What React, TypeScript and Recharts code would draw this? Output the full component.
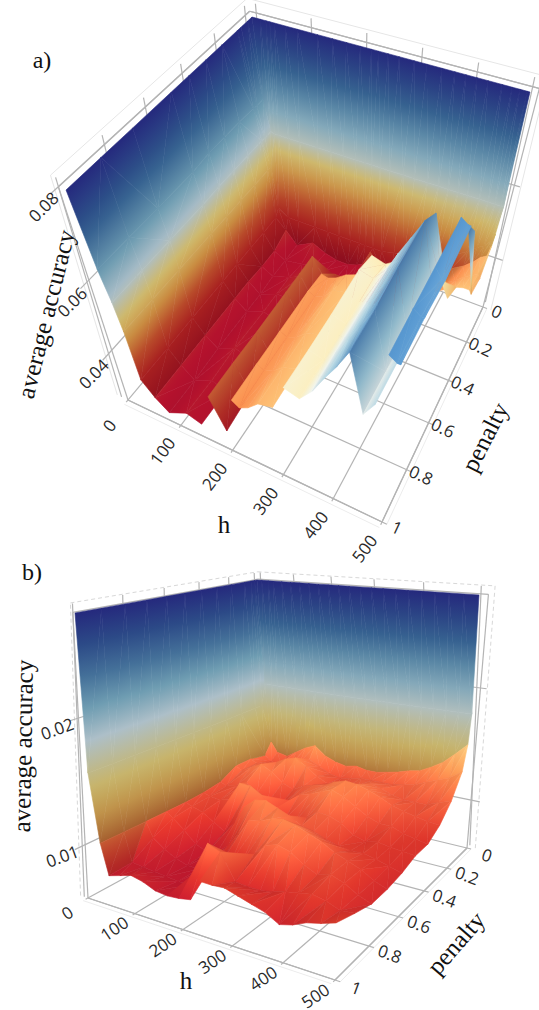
import { Scatter, ScatterChart, XAxis, YAxis } from 'recharts'

const WIDTH = 539
const HEIGHT = 1010

// accuracy values are stored x1000 (80 = 0.08)
const hA = [0, 15, 25, 32, 40, 60, 82, 118, 145, 170, 195, 215, 228, 245, 265, 292, 315, 342, 365, 385, 405, 425, 450, 468, 482, 495, 500]
const pA = [0, 0.03, 0.075, 0.1, 0.2, 0.3, 0.4, 0.5, 0.7, 0.85, 1]
const a00 = [80, 80, 80, 80, 80, 80, 80, 80, 80, 80, 80, 80, 80, 80, 80, 80, 80, 80, 80, 80, 80, 80, 80, 80, 80, 80, 80]
const a03 = [80, 64.6, 57.3, 57, 57, 57, 57, 57, 57, 57, 57, 57, 57, 57, 57, 57, 57, 57, 57, 57, 57, 57, 57, 57, 57, 57, 57]
const a06 = [80, 64.6, 57.3, 50, 38, 36, 36, 36, 36, 36, 36, 36, 36, 36, 36, 37, 37, 38, 39, 40, 41, 43, 45, 47, 48, 50, 52]
const a10 = [80, 64.8, 57.5, 50, 36, 33, 29, 32, 30, 29, 29, 30, 31, 36, 33, 30, 31, 33, 34, 35, 38, 40, 42, 44, 46, 47, 50]
const a20 = [80, 65, 57.5, 50, 36, 31, 29, 30, 31, 31, 30, 31, 31, 32, 31, 31, 32, 33, 35, 37, 39, 41, 43, 45, 46, 47, 46]
const a30 = [80, 65, 57.5, 50, 36, 31, 29, 31, 33, 41, 35, 38, 34, 33, 32, 33, 34, 35, 37, 39, 41, 44, 46, 47.5, 48, 48, 47]
const a40 = [80, 65, 57.5, 50, 36, 31.5, 28.5, 31, 31, 41, 34, 43.5, 43, 44, 46, 47.5, 54, 53, 55, 59, 64, 69, 54, 50, 62, 68, 60]
const a50 = [80, 64.5, 57.3, 50, 36, 31.5, 28.5, 31, 30, 41, 33.5, 44, 43, 44, 47, 48, 55.5, 54.5, 58, 63, 67.5, 72, 58, 63, 75, 74, 74]
const a70 = [80, 64.5, 57.3, 50, 36, 31.5, 28.5, 31.5, 30, 41, 33.5, 44, 43, 44, 46.5, 48, 55, 54, 58, 62.5, 67, 72, 58, 62.5, 75, 73, 73]
const a85 = [80, 64.6, 57.3, 50, 35.8, 31.5, 28, 31, 29.5, 41.3, 33, 44, 43, 44, 46.5, 48, 55, 54, 58, 62.5, 67, 71.5, 58, 62, 75, 74, 74]
const a100 = [80, 64.6, 57.3, 50, 35.8, 31.5, 28.1, 31.2, 29.7, 41.3, 31.8, 43.9, 42.5, 43.9, 46.7, 47.8, 55.3, 54.2, 58, 62.7, 67, 71.9, 58, 62, 75, 74, 74]

const hB = [0, 15, 35, 50, 75, 100, 125, 150, 175, 200, 225, 250, 275, 300, 325, 350, 375, 400, 425, 450, 475, 500]
const pB = [0, 0.02, 0.05, 0.1, 0.2, 0.3, 0.4, 0.5, 0.6, 0.7, 0.8, 0.9, 1]
const b00 = [28, 28, 28, 28, 28, 28, 28, 28, 28, 28, 28, 28, 28, 28, 28, 28, 28, 28, 28, 28, 28, 28]
const b02 = [28, 18, 18, 18, 18, 18, 18, 18, 18, 18, 18, 18, 18, 18, 18, 18, 18, 18, 18, 18, 18, 18]
const b05 = [28, 16, 12.5, 11.6, 11.4, 12, 12.6, 13, 12.2, 11.8, 11.6, 11.8, 11.6, 11.6, 11.8, 12, 12.3, 12.5, 13, 13.6, 14.5, 15.5]
const b10 = [28, 16, 11.5, 11, 11, 11, 11.5, 12, 11.5, 11, 10.8, 11, 11.2, 11.2, 11.2, 11.2, 11.4, 11.6, 12, 12.4, 12.8, 13.5]
const b20 = [28, 16, 11.8, 11.5, 11.5, 12, 12.5, 12.8, 12.2, 11.5, 11, 11, 11.2, 11.5, 11.8, 11.6, 11.2, 11, 11, 11, 11.4, 11.7]
const b30 = [28, 16, 11.8, 11.5, 12, 12.5, 12, 11.2, 10.8, 11.3, 11.6, 11.8, 12.3, 12.6, 12.5, 12.2, 11.8, 11.3, 11, 10.8, 10.6, 10.5]
const b40 = [28, 16, 11, 10.8, 11, 11.5, 10.8, 10.2, 10, 10.8, 11.5, 11.8, 12.2, 12.6, 12.2, 11.6, 11, 10.6, 10.6, 10.2, 10, 9.8]
const b50 = [28, 16, 10.8, 10.6, 10.5, 10.8, 12.4, 12.4, 11.8, 10.8, 10.2, 10.3, 10.8, 11.5, 11.4, 11, 10.3, 10, 10.2, 10, 9.9, 9.8]
const b60 = [28, 16, 10.7, 10.5, 10.2, 9.6, 9, 10, 11.6, 12.4, 12.6, 12.2, 11.8, 11.2, 11, 10.6, 10.3, 10.2, 10.2, 10, 9.7, 9.4]
const b70 = [28, 16, 10.7, 10.3, 9.5, 8.6, 8.2, 8.5, 9.2, 10.5, 11.8, 12, 12.4, 12.6, 12.4, 12, 11.6, 11, 10.6, 10.2, 9.6, 9.2]
const b80 = [28, 16, 10.7, 9.5, 8.8, 8.3, 8, 8, 8.4, 9, 9.5, 9.8, 10.5, 11.5, 11.8, 11.5, 10.8, 10.3, 10.6, 10.2, 9.6, 9.2]
const b90 = [28, 16, 10.7, 8.4, 8.3, 8.2, 8.1, 8, 8, 9.5, 11.8, 11.4, 9.4, 9.3, 9.3, 9.5, 9.8, 10, 10.2, 10, 9.6, 9.7]
const b100 = [28, 16, 10.7, 8.3, 8.6, 8.9, 8.7, 8.3, 8.2, 8.3, 8.5, 10.2, 10.2, 10.3, 10, 9.7, 9.4, 8.8, 9.1, 9.6, 9.9, 10.3]

const hTicks = [0, 100, 200, 300, 400, 500]
const pTicks = [0, 0.2, 0.4, 0.6, 0.8, 1]

type Ramp = [number, string][]

// colour along the height scale, for nearly flat faces and for steep faces
const flatRampA: Ramp = [
  [0, '#a50f2d'], [0.1, '#b5122d'], [0.18, '#b83a2a'], [0.29, '#c8703c'], [0.315, '#fb8f4f'], [0.42, '#fdc377'],
  [0.52, '#fdeebb'], [0.6, '#f0f6f2'], [0.7, '#c2e2ee'], [0.8, '#8fc1e0'], [0.9, '#5a9ad2'], [1, '#3a6fb5'],
]
const flatRampB: Ramp = [
  [0, '#a50f2d'], [0.1, '#b5122d'], [0.2, '#d8352a'], [0.28, '#f46d43'], [0.33, '#fb8f4f'], [0.42, '#fdc377'],
  [0.52, '#fdeebb'], [1, '#fdeebb'],
]
const wallRampA: Ramp = [
  [0, '#8a0a1e'], [0.1, '#8f0f1f'], [0.2, '#a82020'], [0.3, '#b84a2a'], [0.4, '#c98a40'], [0.5, '#d0b868'],
  [0.6, '#adbfc8'], [0.7, '#6f9db2'], [0.85, '#2f5a8c'], [1, '#25297d'],
]
const wallRampB: Ramp = [
  [0, '#8a0a1e'], [0.2, '#9a2a20'], [0.28, '#a5602f'], [0.36, '#bf9048'], [0.45, '#c8b468'],
  [0.6, '#adbfc8'], [0.7, '#6f9db2'], [0.85, '#2f5a8c'], [1, '#25297d'],
]

type Pt = [number, number]
type Quad4 = [Pt, Pt, Pt, Pt]

// unit square to quad, corners h0p0, h500p0, h500p1, h0p1
function homography(q: Quad4) {
  const [[x0, y0], [x1, y1], [x2, y2], [x3, y3]] = q
  const dx1 = x1 - x2
  const dx2 = x3 - x2
  const sx = x0 - x1 + x2 - x3
  const dy1 = y1 - y2
  const dy2 = y3 - y2
  const sy = y0 - y1 + y2 - y3
  const den = dx1 * dy2 - dx2 * dy1
  const g = (sx * dy2 - dx2 * sy) / den
  const h = (dx1 * sy - sx * dy1) / den
  return (u: number, v: number): Pt => {
    const w = g * u + h * v + 1
    return [
      ((x1 - x0 + g * x1) * u + (x3 - x0 + h * x3) * v + x0) / w,
      ((y1 - y0 + g * y1) * u + (y3 - y0 + h * y3) * v + y0) / w,
    ]
  }
}

function hexRgb(c: string) {
  return [1, 3, 5].map((i) => parseInt(c.slice(i, i + 2), 16))
}

function rampAt(ramp: Ramp, c: number) {
  const v = Math.max(0, Math.min(1, c))
  for (let i = 1; i < ramp.length; i++) {
    if (v <= ramp[i][0]) {
      const f = (v - ramp[i - 1][0]) / (ramp[i][0] - ramp[i - 1][0])
      const a = hexRgb(ramp[i - 1][1])
      const b = hexRgb(ramp[i][1])
      return a.map((n, k) => n + (b[k] - n) * f)
    }
  }
  return hexRgb(ramp[ramp.length - 1][1])
}

const clamp01 = (v: number) => Math.max(0, Math.min(1, v))

type LabelSpot = { dx: number; dy: number; rot: number }

type PanelDef = {
  id: string
  hs: number[]
  ps: number[]
  rows: (number | null)[][]
  floor: Quad4
  top: Quad4
  z0: number
  z1: number
  persp: number
  hWarp: number
  cMin: number
  cMax: number
  flatShift: number
  relief: number
  flatRamp: Ramp
  wallRamp: Ramp
  wallH: number
  wallP: number
  zTicks: number[]
  hLo: number
  hHi: number
  pLo: number
  hLabel: LabelSpot
  pLabel: LabelSpot
  zLabel: LabelSpot
  dashed: boolean
}

const panelA: PanelDef = {
  id: 'a',
  hs: hA,
  ps: pA,
  rows: [a00, a03, a06, a10, a20, a30, a40, a50, a70, a85, a100],
  floor: [[272, 228], [483, 307], [382, 522], [128, 400]],
  top: [[252, 17], [530, 92], [404, 337], [66, 190]],
  z0: 25,
  z1: 80,
  persp: 1.45,
  hWarp: 0.85,
  cMin: 25,
  cMax: 80,
  flatShift: 0,
  relief: 0,
  flatRamp: flatRampA,
  wallRamp: wallRampA,
  wallH: 60,
  wallP: 0.095,
  zTicks: [40, 60, 80],
  hLo: -12,
  hHi: 512,
  pLo: -0.03,
  hLabel: { dx: -15, dy: 21, rot: -53 },
  pLabel: { dx: 10, dy: 3, rot: 25 },
  zLabel: { dx: -15, dy: 20, rot: -45 },
  dashed: false,
}

const panelB: PanelDef = {
  id: 'b',
  hs: hB,
  ps: pB,
  rows: [b00, b02, b05, b10, b20, b30, b40, b50, b60, b70, b80, b90, b100],
  floor: [[268, 800], [467, 848], [335, 980], [88, 898]],
  top: [[257, 580], [479, 595], [340, 682], [75, 613]],
  z0: 5.9,
  z1: 28,
  persp: 1.05,
  hWarp: 0.92,
  cMin: 4,
  cMax: 28,
  flatShift: -0.05,
  relief: 0.09,
  flatRamp: flatRampB,
  wallRamp: wallRampB,
  wallH: 30,
  wallP: 0.045,
  zTicks: [10, 20],
  hLo: -8,
  hHi: 512,
  pLo: -0.03,
  hLabel: { dx: -16, dy: 12, rot: -34 },
  pLabel: { dx: 16, dy: 6, rot: 20 },
  zLabel: { dx: -20, dy: 10, rot: -20 },
  dashed: true,
}

const zName = (z: number) => (z / 1000).toFixed(2)

function buildPanel(d: PanelDef) {
  const floorAt = homography(d.floor)
  const topAt = homography(d.top)
  const project = (h: number, p: number, z: number): Pt => {
    const t = (z - d.z0) / (d.z1 - d.z0)
    const k = t / (t + d.persp * (1 - t))
    const u0 = h / 500
    const u = u0 / (u0 + d.hWarp * (1 - u0))
    const a = floorAt(u, p)
    const b = topAt(u, p)
    return [a[0] + (b[0] - a[0]) * k, a[1] + (b[1] - a[1]) * k]
  }
  const cross = (a: Pt, b: Pt, c: Pt) => (b[0] - a[0]) * (c[1] - a[1]) - (b[1] - a[1]) * (c[0] - a[0])
  const frontSign = Math.sign(cross(project(0, 0, d.z0), project(500, 0, d.z0), project(500, 1, d.z0)))

  // each grid cell is split in two triangles, far ones first so nearer ones paint over them
  const span = d.z1 - d.z0
  const cells: any[] = []
  const addTriangle = (id: string, v: { h: number; p: number; z: number | null }[]) => {
    if (v.some((q) => q.z === null)) return
    const vs = v.map((q) => ({ u: q.h / 500, p: q.p, z: q.z as number, s: project(q.h, q.p, q.z as number) }))
    const ax = vs[1].u - vs[0].u
    const ay = vs[1].p - vs[0].p
    const az = (vs[1].z - vs[0].z) / span
    const bx = vs[2].u - vs[0].u
    const by = vs[2].p - vs[0].p
    const bz = (vs[2].z - vs[0].z) / span
    const nx3 = ay * bz - az * by
    const ny3 = az * bx - ax * bz
    const nz3 = (ax * by - ay * bx) || 1e-6

    // faces turned away from the camera are always behind something else
    if (Math.sign(cross(vs[0].s, vs[1].s, vs[2].s)) * Math.sign(nz3) !== frontSign) return

    const slope = Math.hypot(nx3, ny3) / Math.abs(nz3)
    const uMid = (vs[0].u + vs[1].u + vs[2].u) / 3
    const pMid = (vs[0].p + vs[1].p + vs[2].p) / 3
    const isWall = uMid * 500 < d.wallH || pMid < d.wallP
    const steep = isWall ? 1 : Math.min(0.6, clamp01((slope - 1.5) / 2.5))
    // plain directional shading so the low hills read as relief
    const facing = (nx3 / nz3 + (ny3 / nz3) * 0.7) * d.relief
    const light = 1 + Math.max(-0.14, Math.min(0.1, facing)) * (1 - steep)

    const sorted = [...vs].sort((m, n) => m.z - n.z)
    const [A, B, C] = sorted
    const range = C.z - A.z
    const f = range > 0 ? (B.z - A.z) / range : 0
    const qx = A.s[0] + (C.s[0] - A.s[0]) * f
    const qy = A.s[1] + (C.s[1] - A.s[1]) * f
    let ex = B.s[0] - qx
    let ey = B.s[1] - qy
    if (Math.hypot(ex, ey) < 1e-3) {
      ex = -(C.s[1] - A.s[1])
      ey = C.s[0] - A.s[0]
    }
    const len = Math.hypot(ex, ey) || 1
    const nx = -ey / len
    const ny = ex / len
    const dot = (C.s[0] - A.s[0]) * nx + (C.s[1] - A.s[1]) * ny
    const stops = [0, 0.2, 0.4, 0.6, 0.8, 1].map((t) => {
      const cv = (A.z + range * t - d.cMin) / (d.cMax - d.cMin)
      const flat = rampAt(d.flatRamp, cv + d.flatShift)
      const wall = rampAt(d.wallRamp, cv)
      const rgb = flat.map((n, k) => Math.min(255, Math.round((n + (wall[k] - n) * steep) * light)))
      return { f: t, color: `rgb(${rgb.join(',')})` }
    })
    const [x, y] = vs[0].s
    cells.push({
      x,
      y,
      key: vs.reduce((sum, q) => sum + q.u + q.p, 0) / 3,
      id,
      pts: vs.map((q) => [q.s[0] - x, q.s[1] - y]),
      g: [A.s[0] - x, A.s[1] - y, A.s[0] + nx * dot - x, A.s[1] + ny * dot - y],
      stops,
    })
  }

  for (let r = 0; r < d.ps.length - 1; r++) {
    for (let c = 0; c < d.hs.length - 1; c++) {
      const corner = [
        { h: d.hs[c], p: d.ps[r], z: d.rows[r][c] },
        { h: d.hs[c + 1], p: d.ps[r], z: d.rows[r][c + 1] },
        { h: d.hs[c + 1], p: d.ps[r + 1], z: d.rows[r + 1][c + 1] },
        { h: d.hs[c], p: d.ps[r + 1], z: d.rows[r + 1][c] },
      ]
      const zs = corner.map((q) => q.z)
      const diag02 = zs[0] !== null && zs[2] !== null ? Math.abs(zs[0] - zs[2]) : -1
      const diag13 = zs[1] !== null && zs[3] !== null ? Math.abs(zs[1] - zs[3]) : -1
      const id = `${d.id}-${r}-${c}`
      if (diag02 >= diag13) {
        addTriangle(`${id}-0`, [corner[0], corner[1], corner[2]])
        addTriangle(`${id}-1`, [corner[0], corner[2], corner[3]])
      } else {
        addTriangle(`${id}-0`, [corner[0], corner[1], corner[3]])
        addTriangle(`${id}-1`, [corner[1], corner[2], corner[3]])
      }
    }
  }
  cells.sort((a, b) => a.key - b.key)

  const lines: any[] = []
  const seg = (a: number[], b: number[], color = '#b4b4b4', width = 1.2, dash = '') => {
    const p1 = project(a[0], a[1], a[2])
    const p2 = project(b[0], b[1], b[2])
    lines.push({ x: p1[0], y: p1[1], dx: p2[0] - p1[0], dy: p2[1] - p1[1], color, width, dash })
  }
  const { hLo, hHi, pLo, z0, z1 } = d
  const zOut = z1 + (z1 - z0) * 0.03

  // faint outer box
  const faint = d.dashed ? '#d8d8d8' : '#e6e6e6'
  const dash = d.dashed ? '4 3' : ''
  seg([hLo - 8, 1, z0], [hLo - 8, 1, zOut], faint, 1, dash)
  seg([hLo - 8, 1, zOut], [hLo - 8, pLo - 0.02, zOut], faint, 1, dash)
  seg([hLo - 8, pLo - 0.02, zOut], [hHi + 8, pLo - 0.02, zOut], faint, 1, dash)
  seg([hHi + 8, pLo - 0.02, zOut], [hHi + 8, 0, z0], faint, 1, dash)
  seg([0, 1.02, z0], [500, 1.02, z0], '#ececec', 1)
  seg([510, 0, z0], [510, 1, z0], '#ececec', 1)

  // box edges
  seg([0, 1, z0], [hLo, 1, z1])
  seg([hLo, 1, z1], [hLo, pLo, z1])
  seg([hLo, pLo, z1], [hHi, pLo, z1])
  seg([hHi, pLo, z1], [500, 0, z0])
  seg([0, 1, z0], [500, 1, z0])
  seg([500, 1, z0], [500, 0, z0])

  // grid
  hTicks.forEach((h) => {
    seg([h, 0, z0], [h, 1.01, z0])
    seg([h, pLo, z0], [h, pLo, zOut])
  })
  pTicks.forEach((p) => {
    seg([0, p, z0], [510, p, z0])
    seg([hLo, p, z0], [hLo, p, zOut])
  })
  d.zTicks.forEach((z) => {
    seg([hLo, pLo, z], [hLo, 1.03, z])
    seg([hLo, pLo, z], [hHi + 6, pLo, z])
  })

  const texts: any[] = []
  const tickFont = { font: '"Open Sans", sans-serif', size: 17, color: '#2a2a2a' }
  hTicks.forEach((h) => {
    const [x, y] = project(h, 1.02, z0)
    texts.push({ x: x + d.hLabel.dx, y: y + d.hLabel.dy, text: String(h), rot: d.hLabel.rot, ...tickFont })
  })
  pTicks.forEach((p) => {
    const [x, y] = project(510, p, z0)
    texts.push({ x: x + d.pLabel.dx, y: y + d.pLabel.dy, text: String(p), rot: d.pLabel.rot, ...tickFont })
  })
  d.zTicks.forEach((z) => {
    const [x, y] = project(hLo, 1, z)
    texts.push({ x: x + d.zLabel.dx, y: y + d.zLabel.dy, text: zName(z), rot: d.zLabel.rot, ...tickFont })
  })
  return { cells, lines, texts }
}

const serif = { font: '"Liberation Serif", serif', color: '#111111' }
const titles = [
  { x: 42, y: 60, text: 'a)', rot: 0, size: 24, ...serif },
  { x: 46, y: 314, text: 'average accuracy', rot: -76, size: 25, ...serif },
  { x: 224, y: 524, text: 'h', rot: 0, size: 25, ...serif },
  { x: 485, y: 437, text: 'penalty', rot: -63, size: 25, ...serif },
  { x: 32, y: 572, text: 'b)', rot: 0, size: 24, ...serif },
  { x: 23, y: 746, text: 'average accuracy', rot: -89, size: 25, ...serif },
  { x: 186, y: 980, text: 'h', rot: 0, size: 25, ...serif },
  { x: 456, y: 943, text: 'penalty', rot: -49, size: 25, ...serif },
]

// the axes map one data unit to one pixel, so offsets from a point stay in pixels
function CellShape({ cx, cy, payload }: any) {
  const d = payload
  const points = d.pts.map((p: number[]) => `${cx + p[0]},${cy + p[1]}`).join(' ')
  const fill = `url(#g-${d.id})`
  return (
    <g>
      <defs>
        <linearGradient
          id={`g-${d.id}`}
          gradientUnits="userSpaceOnUse"
          x1={cx + d.g[0]}
          y1={cy + d.g[1]}
          x2={cx + d.g[2]}
          y2={cy + d.g[3]}
        >
          {d.stops.map((s: any) => (
            <stop key={s.f} offset={s.f} stopColor={s.color} />
          ))}
        </linearGradient>
      </defs>
      <polygon points={points} fill={fill} stroke={fill} strokeWidth={0.6} />
    </g>
  )
}

function LineShape({ cx, cy, payload }: any) {
  return (
    <line
      x1={cx}
      y1={cy}
      x2={cx + payload.dx}
      y2={cy + payload.dy}
      stroke={payload.color}
      strokeWidth={payload.width}
      strokeDasharray={payload.dash || undefined}
    />
  )
}

function TextShape({ cx, cy, payload }: any) {
  return (
    <text
      x={cx}
      y={cy}
      textAnchor="middle"
      dominantBaseline="central"
      fontFamily={payload.font}
      fontSize={payload.size}
      fill={payload.color}
      transform={`rotate(${payload.rot} ${cx} ${cy})`}
    >
      {payload.text}
    </text>
  )
}

const builtA = buildPanel(panelA)
const builtB = buildPanel(panelB)

export default function App() {
  return (
    <div style={{ position: 'absolute', left: 0, top: 0, width: WIDTH, height: HEIGHT, background: '#fff' }}>
      <ScatterChart width={WIDTH} height={HEIGHT} margin={{ top: 0, right: 0, bottom: 0, left: 0 }}>
        <XAxis type="number" dataKey="x" domain={[0, WIDTH]} hide allowDataOverflow />
        <YAxis type="number" dataKey="y" domain={[0, HEIGHT]} reversed hide allowDataOverflow />
        <Scatter data={builtA.lines} shape={LineShape} isAnimationActive={false} />
        <Scatter data={builtA.cells} shape={CellShape} isAnimationActive={false} />
        <Scatter data={builtA.texts} shape={TextShape} isAnimationActive={false} />
        <Scatter data={builtB.lines} shape={LineShape} isAnimationActive={false} />
        <Scatter data={builtB.cells} shape={CellShape} isAnimationActive={false} />
        <Scatter data={builtB.texts} shape={TextShape} isAnimationActive={false} />
        <Scatter data={titles} shape={TextShape} isAnimationActive={false} />
      </ScatterChart>
    </div>
  )
}
